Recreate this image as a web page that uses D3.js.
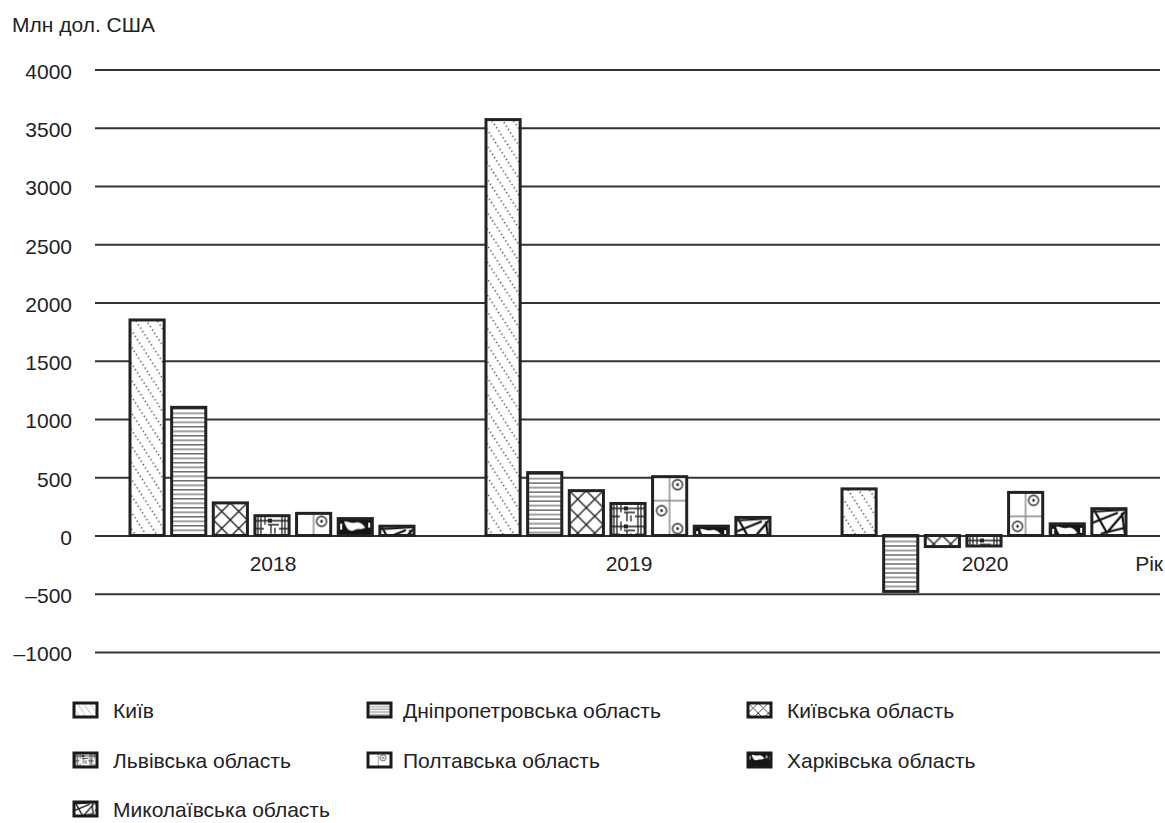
<!DOCTYPE html>
<html><head><meta charset="utf-8">
<script src="https://cdn.jsdelivr.net/npm/d3@7"></script>
<style>
body{margin:0;background:#fff}
text{font-family:"Liberation Sans",Arial,Helvetica,sans-serif;fill:#222}
</style>
</head><body>
<svg id="c" width="1165" height="823"></svg>
<script>
// ---- data ----
const years = ["2018", "2019", "2020"];
const regions = ["Київ", "Дніпропетровська область", "Київська область", "Львівська область",
                 "Полтавська область", "Харківська область", "Миколаївська область"];
const kyiv     = [1850, 3570, 400];
const dnipro   = [1100, 540, -480];
const kyivObl  = [280, 385, -95];
const lviv     = [170, 275, -90];
const poltava  = [190, 505, 370];
const kharkiv  = [145, 80, 100];
const mykolaiv = [80, 155, 230];
const seriesValues = [kyiv, dnipro, kyivObl, lviv, poltava, kharkiv, mykolaiv];
const yTicks = [-1000, -500, 0, 500, 1000, 1500, 2000, 2500, 3000, 3500, 4000];
const yTitle = "Млн дол. США";
const xTitle = "Рік";

// ---- setup ----
const svg = d3.select("#c");
const defs = svg.append("defs");
const y = d3.scaleLinear().domain([-1000, 4000]).range([652, 69.5]);
const x0 = d3.scaleBand().domain(years).range([95, 1163]);
const x1 = d3.scaleBand().domain(d3.range(regions.length)).range([35, 319]).paddingInner(0.18);

// ---- pattern tiles ----
const tiles = [
  { w: 9, h: 8, rot: -33, draw: p => {
      p.append("line").attr("x1", 4.5).attr("y1", 0).attr("x2", 4.5).attr("y2", 8)
        .attr("stroke", "#333").attr("stroke-width", 1.4).attr("stroke-dasharray", "1.3 2.7");
  }},
  { w: 10, h: 9, draw: p => {
      p.append("line").attr("x1", 0).attr("x2", 10).attr("y1", 1.5).attr("y2", 1.5).attr("stroke", "#222").attr("stroke-width", 1);
      p.append("line").attr("x1", 0).attr("x2", 10).attr("y1", 6).attr("y2", 6).attr("stroke", "#888").attr("stroke-width", 1.6);
  }},
  { w: 17, h: 17, draw: p => {
      p.append("path").attr("d", "M0,0L17,17M17,0L0,17").attr("stroke", "#222").attr("stroke-width", 1.4).attr("fill", "none");
  }},
  { w: 24, h: 18, draw: p => {
      p.append("path").attr("d", "M3,0V18M6,0V18M10,0V9M0,5H24M13,9H24M16,9V18M20,12V18M0,13H9")
        .attr("stroke", "#222").attr("stroke-width", 1.3).attr("fill", "none");
      p.append("rect").attr("x", 13).attr("y", 3).attr("width", 4).attr("height", 4).attr("fill", "#222");
  }},
  { w: 34, h: 44, draw: p => {
      p.append("path").attr("d", "M17,0V44M0,24H34").attr("stroke", "#888").attr("stroke-width", 1.4).attr("fill", "none");
      p.append("circle").attr("cx", 25).attr("cy", 8).attr("r", 5).attr("fill", "#fff").attr("stroke", "#222").attr("stroke-width", 1.3);
      p.append("circle").attr("cx", 25).attr("cy", 8).attr("r", 1.4).attr("fill", "#222");
      p.append("circle").attr("cx", 9).attr("cy", 34).attr("r", 5).attr("fill", "#fff").attr("stroke", "#222").attr("stroke-width", 1.3);
      p.append("circle").attr("cx", 9).attr("cy", 34).attr("r", 1.4).attr("fill", "#222");
  }},
  { w: 34, h: 20, bg: "#151515", draw: p => {
      p.append("path").attr("d", "M6,3C9,2 12,5 17,4C22,3 25,6 27,9C23,12 19,9 15,12C11,13 8,10 6,3Z").attr("fill", "#fff");
      p.append("rect").attr("x", 2).attr("y", 5).attr("width", 2).attr("height", 6).attr("fill", "#fff");
      p.append("rect").attr("x", 30).attr("y", 4).attr("width", 2).attr("height", 5).attr("fill", "#fff");
  }},
  { w: 34, h: 26, draw: p => {
      p.append("path").attr("d", "M1,3L33,1M2,1L15,24L33,3M1,14L26,4M9,25L33,19M30,4L33,25")
        .attr("stroke", "#111").attr("stroke-width", 2.2).attr("fill", "none");
  }}
];

function makePattern(id, i, tx, ty, s) {
  const t = tiles[i];
  const p = defs.append("pattern").attr("id", id)
    .attr("patternUnits", "userSpaceOnUse")
    .attr("width", t.w).attr("height", t.h)
    .attr("patternTransform", `translate(${tx},${ty}) scale(${s})` + (t.rot ? ` rotate(${t.rot})` : ""));
  p.append("rect").attr("width", t.w).attr("height", t.h).attr("fill", t.bg || "#fff");
  t.draw(p);
  return `url(#${id})`;
}

// ---- grid + y axis ----
const yAxis = d3.axisLeft(y).tickValues(yTicks).tickSize(-1065).tickPadding(23)
  .tickFormat(d => d < 0 ? "–" + Math.abs(d) : String(d));
const ga = svg.append("g").attr("transform", "translate(95,0)").call(yAxis);
ga.select(".domain").remove();
ga.selectAll(".tick line").attr("stroke", "#333").attr("stroke-width", 2);
ga.selectAll(".tick text").attr("font-size", 21).attr("fill", "#222").attr("dy", "0.42em")
  .style("font-family", '"Liberation Sans",Arial,sans-serif');

// ---- titles ----
svg.append("text").attr("x", 12).attr("y", 32).attr("font-size", 21).text(yTitle);
svg.append("text").attr("x", 1163).attr("y", 571).attr("text-anchor", "end").attr("font-size", 21).text(xTitle);

// ---- category labels ----
svg.append("g").selectAll("text").data(years).join("text")
  .attr("x", d => x0(d) + x0.bandwidth() / 2).attr("y", 571)
  .attr("text-anchor", "middle").attr("font-size", 21).text(d => d);

// ---- bars ----
const barData = [];
years.forEach((yr, g) => regions.forEach((r, i) => barData.push({ g, i, yr, v: seriesValues[i][g] })));
svg.append("g").selectAll("rect").data(barData).join("rect")
  .each(function (d) {
    const bx = x0(d.yr) + x1(d.i);
    const top = y(Math.max(0, d.v));
    d3.select(this)
      .attr("x", bx).attr("y", top)
      .attr("width", x1.bandwidth())
      .attr("height", Math.abs(y(d.v) - y(0)))
      .attr("fill", makePattern(`pb-${d.i}-${d.g}`, d.i, bx, top, 1))
      .attr("stroke", "#222").attr("stroke-width", 3);
  });

// ---- legend ----
const legIconX = [74, 368, 748];
const legTextX = [113, 403, 787];
const legRowY = [710, 760, 809];
const lg = svg.append("g").selectAll("g").data(regions).join("g");
lg.each(function (r, i) {
  const col = i % 3, row = Math.floor(i / 3);
  const ix = legIconX[col], iy = legRowY[row] - 7;
  d3.select(this).append("rect").attr("x", ix).attr("y", iy).attr("width", 23).attr("height", 14)
    .attr("fill", makePattern(`pl-${i}`, i, ix, iy, 0.6))
    .attr("stroke", "#1a1a1a").attr("stroke-width", 3);
  d3.select(this).append("text").attr("x", legTextX[col]).attr("y", legRowY[row] + 8)
    .attr("font-size", 21).text(r);
});
</script>
</body></html>
